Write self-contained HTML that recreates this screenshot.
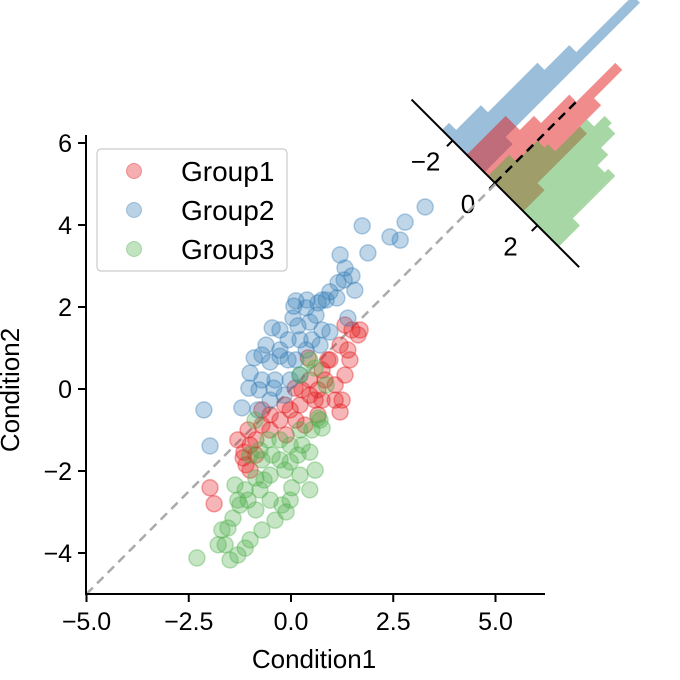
<!DOCTYPE html>
<html><head><meta charset="utf-8">
<style>
html,body{margin:0;padding:0;background:#fff;}
svg{display:block;font-family:"Liberation Sans","DejaVu Sans",sans-serif;}
</style></head>
<body>
<svg id="chart" width="680" height="680" viewBox="0 0 680 680" xmlns="http://www.w3.org/2000/svg">
<g id="hist"></g>
<g id="plot"></g>
<g id="axes"></g>
<g id="legend">
  <rect x="97" y="149" width="190" height="122" rx="4" fill="#fff" fill-opacity="0.8" stroke="#ccc" stroke-width="1.2"/>
  <circle cx="134" cy="171" r="7.5" fill="#e41a1c" fill-opacity="0.35" stroke="#e41a1c" stroke-opacity="0.4"/>
  <text x="181" y="181" style="font-size:28px">Group1</text>
  <circle cx="134" cy="210" r="7.5" fill="#377eb8" fill-opacity="0.35" stroke="#377eb8" stroke-opacity="0.4"/>
  <text x="181" y="220" style="font-size:28px">Group2</text>
  <circle cx="134" cy="249" r="7.5" fill="#4daf4a" fill-opacity="0.35" stroke="#4daf4a" stroke-opacity="0.4"/>
  <text x="181" y="259" style="font-size:28px">Group3</text>
</g>
</svg>
<script>
const xTicks = [-5.0, -2.5, 0.0, 2.5, 5.0];
const xTickLabels = ["\u22125.0", "\u22122.5", "0.0", "2.5", "5.0"];
const yTicks = [-4, -2, 0, 2, 4, 6];
const yTickLabels = ["\u22124", "\u22122", "0", "2", "4", "6"];

const redX = [-1.98,-1.88,-1.15,-1.00,-1.10,-1.05,-0.71,-0.86,-0.51,-0.27,-0.12,-0.02,0.22,0.46,0.66,0.83,1.08,1.32,1.44,1.64,1.49,1.32,1.20,0.95,0.76,0.46,0.27,0.12,0.34,-0.15,-0.51,-0.71,-0.86,-1.00,-1.17,1.08,1.20,0.66,0.90,0.42,0.59,0.10,0.76,1.69,1.39,1.25,-1.30];
const redY = [-2.41,-2.80,-1.54,-1.37,-1.85,-1.00,-0.88,-1.24,-1.00,-0.76,-1.12,-0.51,-0.39,-0.15,-0.02,0.22,0.10,0.34,0.71,1.32,1.44,1.56,1.07,0.71,0.46,0.22,-0.02,-0.76,-0.88,-0.39,-0.63,-0.51,-1.61,-1.98,-1.68,-0.27,-0.56,-0.63,0.71,0.76,-0.27,0.02,-0.27,1.44,0.95,-0.27,-1.24];
const blueX = [3.28,2.79,2.67,2.42,1.74,1.88,1.20,1.32,1.15,0.95,1.49,1.30,0.76,0.66,0.39,0.12,0.05,0.17,0.46,0.51,0.22,-0.07,-0.27,-0.46,-0.61,-0.71,-0.51,-0.27,-0.07,0.12,0.37,0.71,0.95,0.76,0.61,0.86,1.12,-0.39,-0.71,-1.00,-1.03,-0.78,-0.42,-0.02,-0.17,-1.20,-2.13,-1.98,-0.81,-0.51,1.56,0.07,1.39,0.37,-0.27,0.22,-0.90];
const blueY = [4.44,4.07,3.63,3.71,3.98,3.32,3.27,2.95,2.59,2.37,2.76,2.66,2.17,2.10,2.17,2.15,1.73,1.54,1.63,1.20,1.20,1.20,1.44,1.49,1.07,0.83,0.66,0.80,0.71,0.71,0.95,1.07,1.39,1.44,1.80,2.17,2.22,0.22,0.22,0.39,0.02,-0.02,0.02,0.22,-0.15,-0.46,-0.51,-1.39,-0.51,-0.27,2.41,2.02,1.73,1.98,0.95,0.34,0.76];
const greenX = [-2.30,-1.61,-1.54,-1.30,-1.12,-1.00,-1.69,-1.42,-1.25,-0.86,-1.05,-0.76,-0.51,-0.22,-0.12,0.02,0.22,0.46,0.46,0.59,0.17,-0.15,-0.51,-0.71,-1.00,-0.88,-0.56,-0.27,-0.02,0.22,0.51,0.66,0.76,0.86,0.59,0.22,0.46,0.71,-1.37,-1.12,-0.39,-0.71,-1.30,-0.86,-0.27,0.27,-0.02,-0.46,-0.66,-1.49,-1.78,-0.02,-0.76];
const greenY = [-4.12,-3.80,-3.39,-4.05,-3.88,-3.68,-3.44,-3.15,-2.83,-2.95,-2.71,-2.46,-2.71,-2.83,-3.00,-2.41,-2.10,-2.46,-1.54,-1.98,-1.61,-1.98,-2.10,-1.73,-1.61,-0.76,-1.24,-1.24,-1.37,-1.00,-1.00,-0.71,-0.95,0.10,0.51,0.34,0.71,-0.76,-2.34,-2.46,-3.20,-3.44,-2.71,-2.17,-1.73,-1.37,-1.78,-1.61,-2.22,-4.17,-3.80,-2.71,-1.49];

const histTicks = [-2, 0, 2];
const histTickLabels = ["\u22122", "0", "2"];
const blueStart = -2.5, redStart = -1.33, greenStart = -0.33, binWidth = 1/3;
const blueCounts = [2, 9, 23, 30, 46, 8];
const redCounts = [11, 11, 15, 23, 34, 26, 20, 6];
const greenCounts = [6, 12, 13, 22, 25, 24, 20, 17, 18, 6];

const NS = "http://www.w3.org/2000/svg";
const X0 = 291, XS = 40.9, Y0 = 389, YS = 41;
const sx = v => X0 + v * XS;
const sy = v => Y0 - v * YS;
function mk(tag, attrs, parent){ const e=document.createElementNS(NS,tag); for(const k in attrs) e.setAttribute(k,attrs[k]); parent.appendChild(e); return e; }

const plot = document.getElementById('plot');
const axes = document.getElementById('axes');
const hist = document.getElementById('hist');

const diag = mk('line',{x1:sx(-5),y1:sy(-5),x2:sx(5),y2:sy(5),stroke:'#aaa','stroke-width':2.5,'stroke-dasharray':'9,6'},plot);



function drawSeries(xs, ys, color, name){
  for(let i=0;i<xs.length;i++){
    const c = mk('circle',{cx:sx(xs[i]),cy:sy(ys[i]),r:8,fill:color,'fill-opacity':0.32,stroke:color,'stroke-opacity':0.38,'stroke-width':1.5},plot);
    
    
  }
}
drawSeries(redX, redY, '#e41a1c', 'group1');
drawSeries(blueX, blueY, '#377eb8', 'group2');
drawSeries(greenX, greenY, '#4daf4a', 'group3');

const xa = mk('line',{x1:86,y1:594,x2:545,y2:594,stroke:'#000','stroke-width':2},axes);


const ya = mk('line',{x1:86,y1:135,x2:86,y2:595,stroke:'#000','stroke-width':2},axes);


xTicks.forEach((v,i)=>{
  mk('line',{x1:sx(v),y1:594,x2:sx(v),y2:602,stroke:'#000','stroke-width':2},axes);
  const t = mk('text',{x:sx(v),y:630,'text-anchor':'middle',style:'font-size:25px'},axes);
  t.textContent = xTickLabels[i];
  
  
});
yTicks.forEach((v,i)=>{
  mk('line',{x1:78,y1:sy(v),x2:86,y2:sy(v),stroke:'#000','stroke-width':2},axes);
  const t = mk('text',{x:72,y:sy(v)+9,'text-anchor':'end',style:'font-size:25px'},axes);
  t.textContent = yTickLabels[i];
  
  
});
const xt = mk('text',{x:314,y:668,'text-anchor':'middle',style:'font-size:26px'},axes);
xt.textContent = 'Condition1';


const yt = mk('text',{x:0,y:0,'text-anchor':'middle',transform:'translate(19,390) rotate(-90)',style:'font-size:26px'},axes);
yt.textContent = 'Condition2';



const U = 30;
const HS = 5;
const ig = mk('g',{transform:'translate(495,183) rotate(45)'},hist);
function drawHist(start, counts, color, name){
  let d = 'M'+(start*U)+',0';
  counts.forEach((c,i)=>{
    const a=(start+i*binWidth)*U, b=(start+(i+1)*binWidth)*U;
    d += ' L'+a+','+(-c*HS)+' L'+b+','+(-c*HS);
  });
  d += ' L'+((start+counts.length*binWidth)*U)+',0 Z';
  const p = mk('path',{d:d,fill:color,'fill-opacity':0.5},ig);
  
  
}
drawHist(blueStart, blueCounts, '#377eb8', 'group2-histogram');
drawHist(redStart, redCounts, '#e41a1c', 'group1-histogram');
drawHist(greenStart, greenCounts, '#4daf4a', 'group3-histogram');
const il = mk('line',{x1:-118,y1:0,x2:119,y2:0,stroke:'#000','stroke-width':2},ig);


const zl = mk('line',{x1:0,y1:0,x2:0,y2:-118,stroke:'#000','stroke-width':2.5,'stroke-dasharray':'9,6'},ig);


histTicks.forEach((v,i)=>{
  mk('line',{x1:v*U,y1:0,x2:v*U,y2:8,stroke:'#000','stroke-width':2},ig);
  const ux = 495 + v*U*0.7071 - 27, uy = 183 + v*U*0.7071 + 30;
  const t = mk('text',{x:ux,y:uy,'text-anchor':'middle',style:'font-size:26px'},hist);
  t.textContent = histTickLabels[i];
  
  
});
</script>
</body></html>
